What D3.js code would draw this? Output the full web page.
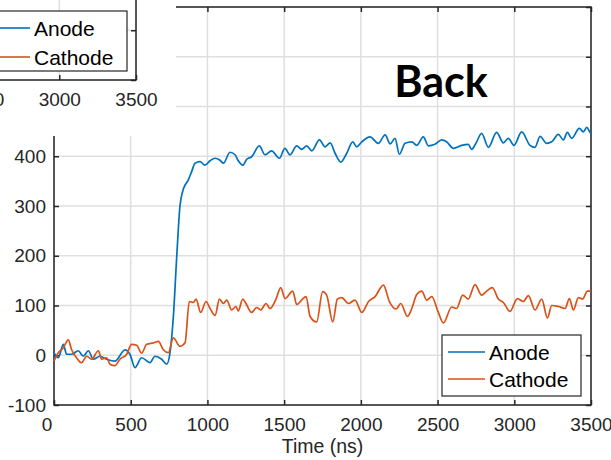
<!doctype html>
<html>
  <head>
    <meta charset="utf-8">
    <title>Back</title>
    <script src="https://cdnjs.cloudflare.com/ajax/libs/d3/7.8.5/d3.min.js"></script>
    <style>
      body { margin: 0; background: #fff; }
      svg { display: block; font-family: "Liberation Sans", Arial, Helvetica, sans-serif; }
    </style>
  </head>
  <body>
    <div id="chart"></div>
    <script>
      // values: [time ns, signal]
      const xTicks = [0, 500, 1000, 1500, 2000, 2500, 3000, 3500];
      const yTicks = [-100, 0, 100, 200, 300, 400, 500, 600, 700];
      const seriesNames = ["Anode", "Cathode"];
      const seriesColors = ["#0072bd", "#d95319"];

      const anode = [
        [0,5],[28,-5],[61,22],[82,2],[115,2],[158,9],[191,-2],[224,9],[256,-8],[300,-2],
        [343,-8],[397,-12],[463,11],[495,2],[528,-25],[571,-5],[626,-15],[658,-2],[702,-8],[734,-18],
        [756,5],[778,78],[800,199],[821,300],[843,334],[875,352],[897,369],[919,386],[952,389],[984,382],
        [1017,391],[1050,396],[1082,392],[1104,386],[1147,408],[1180,403],[1201,391],[1230,382],[1256,394],[1288,399],
        [1338,421],[1375,403],[1418,411],[1469,396],[1505,416],[1538,403],[1582,421],[1614,414],[1647,421],[1680,411],
        [1730,433],[1767,419],[1800,427],[1832,406],[1869,388],[1908,406],[1947,429],[1973,419],[2006,429],[2060,439],
        [2114,426],[2158,443],[2191,425],[2223,436],[2251,404],[2288,426],[2332,429],[2364,422],[2407,439],[2440,421],
        [2483,424],[2527,433],[2559,429],[2603,416],[2657,422],[2700,424],[2722,414],[2750,426],[2787,446],[2831,418],
        [2885,448],[2929,427],[2961,436],[2998,422],[3048,449],[3102,422],[3135,418],[3168,440],[3211,426],[3244,429],
        [3287,444],[3320,433],[3346,448],[3374,436],[3424,456],[3450,449],[3472,458],[3494,448],[3500,446]
      ];

      const cathode = [
        [0,-12],[28,5],[61,15],[93,31],[115,11],[147,-5],[180,-15],[213,-2],[245,-8],[289,9],
        [311,-8],[343,-5],[365,-18],[397,-21],[430,-8],[474,2],[506,22],[539,20],[571,4],[604,22],
        [647,25],[680,28],[713,11],[745,5],[778,35],[821,18],[854,25],[882,108],[908,106],[926,113],
        [956,86],[991,108],[1017,94],[1050,80],[1078,113],[1104,104],[1126,111],[1158,91],[1186,98],[1201,89],
        [1230,113],[1251,104],[1288,86],[1321,96],[1347,91],[1382,104],[1408,94],[1447,113],[1478,136],[1506,114],
        [1556,129],[1582,102],[1614,111],[1643,118],[1669,78],[1712,67],[1751,128],[1777,121],[1817,67],[1847,113],
        [1875,116],[1919,104],[1962,111],[2006,86],[2050,108],[2093,118],[2147,141],[2186,108],[2230,93],[2260,104],
        [2304,78],[2332,94],[2364,122],[2397,129],[2429,111],[2462,118],[2505,86],[2538,65],[2592,97],[2624,94],
        [2664,121],[2700,113],[2744,142],[2787,121],[2820,129],[2857,136],[2896,113],[2929,106],[2972,88],[3020,114],
        [3059,108],[3092,120],[3135,91],[3179,113],[3216,75],[3244,100],[3287,98],[3331,94],[3359,114],[3385,91],
        [3418,116],[3446,113],[3476,129],[3500,129]
      ];

      const series = [anode, cathode];
      const axisColor = "#262626";
      const gridColor = "#dfdfdf";

      const svg = d3.select("#chart").append("svg")
        .attr("width", 611)
        .attr("height", 460);

      // grid, box and inward ticks, matlab style
      function drawAxes(g, x, y) {
        const [x0, x1] = x.range();
        const [y0, y1] = y.range();

        g.append("g").selectAll("line").data(xTicks).join("line")
          .attr("x1", d => x(d)).attr("x2", d => x(d))
          .attr("y1", y0).attr("y2", y1)
          .attr("stroke", gridColor).attr("stroke-width", 1.5);
        g.append("g").selectAll("line").data(yTicks).join("line")
          .attr("x1", x0).attr("x2", x1)
          .attr("y1", d => y(d)).attr("y2", d => y(d))
          .attr("stroke", gridColor).attr("stroke-width", 1.5);

        const axes = [
          [d3.axisBottom(x).tickValues(xTicks).tickFormat(d => String(d)).tickPadding(12.5), `translate(0,${y0})`],
          [d3.axisTop(x).tickValues(xTicks).tickFormat(() => ""), `translate(0,${y1})`],
          [d3.axisLeft(y).tickValues(yTicks).tickFormat(d => String(d)).tickPadding(8), `translate(${x0},0)`],
          [d3.axisRight(y).tickValues(yTicks).tickFormat(() => ""), `translate(${x1},0)`]
        ];
        const groups = axes.map(([ax, tr]) => {
          const a = g.append("g").attr("transform", tr)
            .call(ax.tickSizeInner(-5).tickSizeOuter(0));
          a.select(".domain").remove();
          a.selectAll("line").attr("stroke", axisColor).attr("stroke-width", 1.5);
          a.selectAll("text").attr("fill", axisColor).style("font-size", "19px")
            .style("font-family", '"Liberation Sans", Arial, sans-serif');
          return a;
        });
        // first time label sits a little left of its tick, clear of "-100"
        groups[0].selectAll(".tick text").filter(d => d === xTicks[0]).attr("dx", -7.5);

        g.append("rect")
          .attr("x", x0).attr("y", y1)
          .attr("width", x1 - x0).attr("height", y0 - y1)
          .attr("fill", "none").attr("stroke", axisColor).attr("stroke-width", 1.5);
      }

      function drawLegend(g, bx, by, bw, bh, lx0, lx1, tx, rows) {
        g.append("rect")
          .attr("x", bx).attr("y", by).attr("width", bw).attr("height", bh)
          .attr("fill", "#fff").attr("stroke", axisColor).attr("stroke-width", 1.2);
        seriesNames.forEach((name, i) => {
          g.append("line")
            .attr("x1", lx0).attr("x2", lx1).attr("y1", rows[i]).attr("y2", rows[i])
            .attr("stroke", seriesColors[i]).attr("stroke-width", 1.6);
          g.append("text")
            .attr("x", tx).attr("y", rows[i]).attr("dy", "0.36em")
            .style("font-size", "21px").attr("fill", "#000")
            .text(name);
        });
      }

      // main chart
      const x = d3.scaleLinear().domain([0, 3500]).range([54, 591]);
      const y = d3.scaleLinear().domain([-100, 700]).range([405, 7]);

      const main = svg.append("g");
      drawAxes(main, x, y);

      const line = d3.line()
        .x(d => x(d[0]))
        .y(d => y(d[1]))
        .curve(d3.curveMonotoneX);
      main.append("g").selectAll("path").data(series).join("path")
        .attr("d", line)
        .attr("fill", "none")
        .attr("stroke", (d, i) => seriesColors[i])
        .attr("stroke-width", 1.7)
        .attr("stroke-linejoin", "round");

      drawLegend(main, 442, 335, 139, 61, 448, 485, 489, [352, 379]);

      main.append("text")
        .attr("x", 322.5).attr("y", 453)
        .attr("text-anchor", "middle")
        .attr("fill", axisColor)
        .style("font-size", "19.5px")
        .text("Time (ns)");

      main.append("text")
        .attr("x", 441).attr("y", 97)
        .attr("text-anchor", "middle")
        .style("font-family", "Lato, 'Open Sans', sans-serif")
        .style("font-weight", "bold")
        .style("font-size", "43px")
        .attr("fill", "#000")
        .text("Back");

      // corner of the neighbouring panel overlapping the top left
      svg.append("defs").append("clipPath").attr("id", "inset-clip")
        .append("rect").attr("x", 0).attr("y", 0).attr("width", 176).attr("height", 136);

      const inset = svg.append("g").attr("clip-path", "url(#inset-clip)");
      inset.append("rect")
        .attr("x", 0).attr("y", 0).attr("width", 176).attr("height", 136)
        .attr("fill", "#fff");

      const xi = d3.scaleLinear().domain([0, 3500]).range([136 - 537, 136]);
      const yi = d3.scaleLinear().domain([-100, 700]).range([80, 80 - 398]);
      drawAxes(inset, xi, yi);
      drawLegend(inset, -1, 11, 128, 60, 0, 30, 34, [28, 57]);
    </script>
  </body>
</html>
